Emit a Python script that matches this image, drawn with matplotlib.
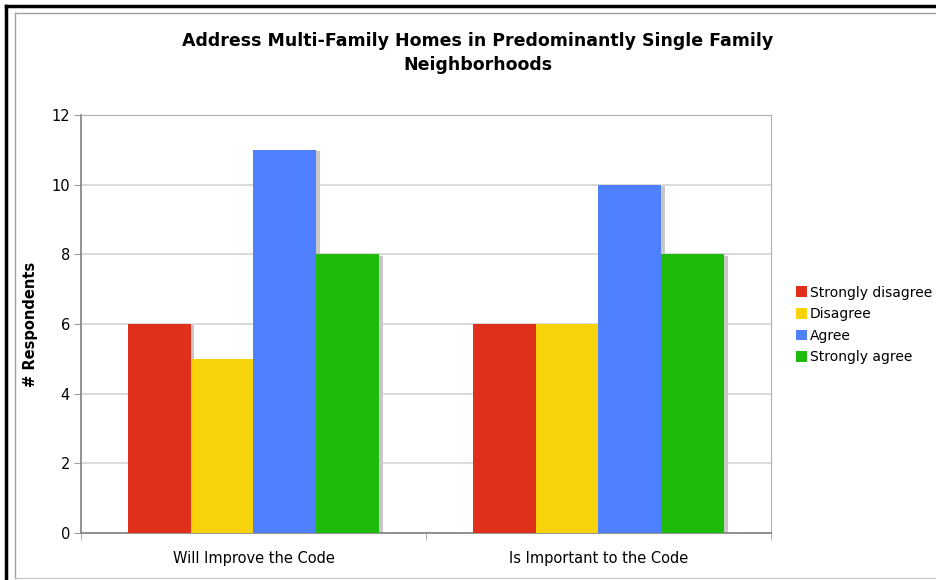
import matplotlib.pyplot as plt
from matplotlib.lines import Line2D
from matplotlib.patches import Patch
import numpy as np

# data
categories = ['Will Improve the Code', 'Is Important to the Code']
series = ['Strongly disagree', 'Disagree', 'Agree', 'Strongly agree']
strongly_disagree = [6, 6]
disagree = [5, 6]
agree = [11, 10]
strongly_agree = [8, 8]
colors = ['#E0301C', '#F9D30A', '#4F80FF', '#1FBB0A']

W, H = 937, 580
fig = plt.figure(figsize=(W / 100, H / 100), dpi=100)
fig.patch.set_facecolor('white')

# outer frame lines (black, then grey)
def fline(x0, y0, x1, y1, **kw):
    fig.add_artist(Line2D([x0 / W, x1 / W], [1 - y0 / H, 1 - y1 / H], transform=fig.transFigure, **kw))

fline(6, 6, W, 6, color='black', lw=2.5)
fline(6, 6, 6, H, color='black', lw=2.5)
fline(15, 13, W, 13, color='#A0A0A0', lw=1)
fline(15, 13, 15, 578, color='#A0A0A0', lw=1)
fline(15, 578, W, 578, color='#C8C8C8', lw=1)

ax = fig.add_axes([81 / W, (H - 533) / H, 690 / W, (533 - 115) / H])

values = [strongly_disagree, disagree, agree, strongly_agree]
x = np.arange(len(categories))
bw = 0.1826
for i, (vals, c) in enumerate(zip(values, colors)):
    pos = x + (i - 1.5) * bw
    ax.bar(pos + 0.009, np.array(vals) - 0.04, width=bw, color='#C8C8C8', zorder=2, align='center')
    ax.bar(pos, vals, width=bw, color=c, zorder=3, align='center', label=series[i])

ax.set_xlim(-0.5, 1.5)
ax.set_ylim(0, 12)
ax.set_yticks(range(0, 13, 2))
ax.set_xticks(x)
ax.set_xticklabels(categories, fontsize=10.5)
ax.set_xticks([-0.5, 0.5, 1.5], minor=True)
ax.tick_params(axis='x', which='major', length=0, pad=13)
ax.tick_params(axis='x', which='minor', length=5, color='#A0A0A0', direction='out')
ax.tick_params(axis='y', length=5, color='#A0A0A0', labelsize=10.5, pad=3)
ax.yaxis.grid(True, color='#D4D4D4', lw=1.2, zorder=0)
ax.set_axisbelow(True)
for s in ['top', 'right']:
    ax.spines[s].set_color('#B0B0B0')
for s in ['left', 'bottom']:
    ax.spines[s].set_color('#808080')
    ax.spines[s].set_linewidth(1.2)

ax.set_ylabel('# Respondents', fontsize=10.5, fontweight='bold')
ax.yaxis.set_label_coords(-0.062, 0.5)

fig.text(478 / W, 1 - 53 / H, 'Address Multi-Family Homes in Predominantly Single Family\nNeighborhoods',
         ha='center', va='center', fontsize=12.5, fontweight='bold', linespacing=1.45)

handles = [Patch(facecolor=c, edgecolor='none') for c in colors]
fig.legend(handles, series, loc='center left', bbox_to_anchor=(789 / W, 1 - 325 / H),
           frameon=False, fontsize=10, handlelength=0.8, handleheight=0.8,
           handletextpad=0.2, labelspacing=0.55, borderpad=0)

plt.savefig('out.png', dpi=100)
